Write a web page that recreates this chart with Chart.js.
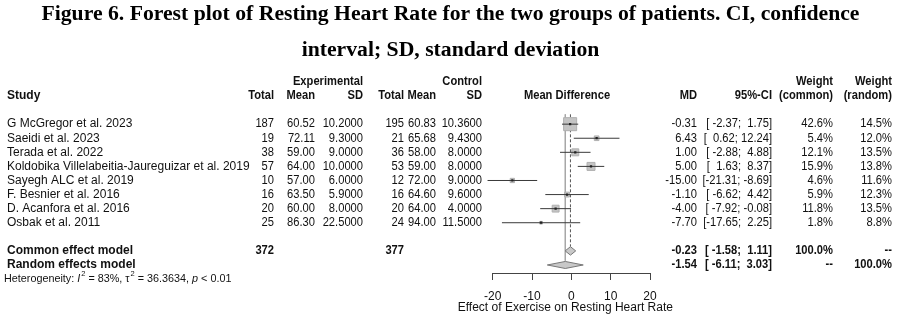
<!DOCTYPE html>
<html>
<head>
<meta charset="utf-8">
<script src="https://cdn.jsdelivr.net/npm/chart.js@4.4.1/dist/chart.umd.min.js"></script>
<style>
  html, body { margin: 0; padding: 0; background: #fff; }
</style>
</head>
<body>
<canvas id="forestChart" width="901" height="325"></canvas>
<script>
const studies = [
    'G McGregor et al. 2023',
    'Saeidi et al. 2023',
    'Terada et al. 2022',
    'Koldobika Villelabeitia-Jaureguizar et al. 2019',
    'Sayegh ALC et al. 2019',
    'F. Besnier et al. 2016',
    'D. Acanfora et al. 2016',
    'Osbak et al. 2011'
];
const expTotal = [187, 19, 38, 57, 10, 16, 20, 25];
const expMean = [60.52, 72.11, 59.00, 64.00, 57.00, 63.50, 60.00, 86.30];
const expSD = [10.2, 9.3, 9.0, 10.0, 6.0, 5.9, 8.0, 22.5];
const ctlTotal = [195, 21, 36, 53, 12, 16, 20, 24];
const ctlMean = [60.83, 65.68, 58.00, 59.00, 72.00, 64.60, 64.00, 94.00];
const ctlSD = [10.36, 9.43, 8.0, 8.0, 9.0, 9.6, 4.0, 11.5];
const md = [-0.31, 6.43, 1.00, 5.00, -15.00, -1.10, -4.00, -7.70];
const ciLow = [-2.37, 0.62, -2.88, 1.63, -21.31, -6.62, -7.92, -17.65];
const ciHigh = [1.75, 12.24, 4.88, 8.37, -8.69, 4.42, -0.08, 2.25];
const wCommon = [42.6, 5.4, 12.1, 15.9, 4.6, 5.9, 11.8, 1.8];
const wRandom = [14.5, 12.0, 13.5, 13.8, 11.6, 12.3, 13.5, 8.8];

const commonModel = { total1: 372, total2: 377, md: -0.23, lo: -1.58, hi: 1.11 };
const randomModel = { md: -1.54, lo: -6.11, hi: 3.03 };
const xTicks = [-20, -10, 0, 10, 20];

// row numbers on the (reversed) y scale
const firstRow = 3;
const commonRow = 12;
const randomRow = 13;
const rowOf = i => firstRow + i;

// whiskers: one segment per study, split by empty points
const ciSegments = [];
studies.forEach((s, i) => {
    ciSegments.push({x: ciLow[i], y: rowOf(i)}, {x: ciHigh[i], y: rowOf(i)}, {x: null, y: null});
});

const squares = md.map((v, i) => ({x: v, y: rowOf(i)}));
const squareRadius = wCommon.map(w => Math.sqrt(2 * w));

function diamond(m, row, h) {
    return [
        {x: m.lo, y: row}, {x: m.md, y: row - h},
        {x: m.hi, y: row}, {x: m.md, y: row + h}, {x: m.lo, y: row}
    ];
}

const f2 = v => v.toFixed(2);
const loW = Math.max(...ciLow.map(v => f2(v).length));
const hiW = Math.max(...ciHigh.map(v => f2(v).length));
const ciText = (lo, hi) => '[' + f2(lo).padStart(loW) + '; ' + f2(hi).padStart(hiW) + ']';

const SANS = '"Liberation Sans", Arial, sans-serif';
const INK = '#111';

// column right edges
const col = {
    expTotal: 274, expMean: 315, expSD: 363,
    ctlTotal: 404, ctlMean: 436, ctlSD: 482,
    md: 697, ci: 772, wCom: 833, wRan: 892
};

const tableText = {
    id: 'tableText',
    afterDraw(chart) {
        const ctx = chart.ctx;
        const ys = chart.scales.y;
        const xs = chart.scales.x;
        ctx.save();
        ctx.fillStyle = INK;
        ctx.textBaseline = 'middle';

        // numbers run a little narrower than the labels
        function put(txt, x, row, align, bold, sx) {
            ctx.save();
            ctx.font = (bold ? 'bold ' : '') + '12px ' + SANS;
            ctx.textAlign = align;
            ctx.translate(x, ys.getPixelForValue(row));
            ctx.scale(sx || 0.93, 1);
            ctx.fillText(txt, 0, 0);
            ctx.restore();
        }

        // header
        put('Experimental', col.expSD, 0, 'right', true);
        put('Control', col.ctlSD, 0, 'right', true);
        put('Weight', col.wCom, 0, 'right', true);
        put('Weight', col.wRan, 0, 'right', true);
        put('Study', 7, 1, 'left', true, 1);
        put('Total', col.expTotal, 1, 'right', true);
        put('Mean', col.expMean, 1, 'right', true);
        put('SD', col.expSD, 1, 'right', true);
        put('Total', col.ctlTotal, 1, 'right', true);
        put('Mean', col.ctlMean, 1, 'right', true);
        put('SD', col.ctlSD, 1, 'right', true);
        put('Mean Difference', 567, 1, 'center', true);
        put('MD', col.md, 1, 'right', true);
        put('95%-CI', col.ci, 1, 'right', true);
        put('(common)', col.wCom, 1, 'right', true);
        put('(random)', col.wRan, 1, 'right', true);

        // studies
        studies.forEach((s, i) => {
            const r = rowOf(i);
            put(s, 7, r, 'left', false, 1);
            put(String(expTotal[i]), col.expTotal, r, 'right');
            put(f2(expMean[i]), col.expMean, r, 'right');
            put(expSD[i].toFixed(4), col.expSD, r, 'right');
            put(String(ctlTotal[i]), col.ctlTotal, r, 'right');
            put(f2(ctlMean[i]), col.ctlMean, r, 'right');
            put(ctlSD[i].toFixed(4), col.ctlSD, r, 'right');
            put(f2(md[i]), col.md, r, 'right');
            put(ciText(ciLow[i], ciHigh[i]), col.ci, r, 'right');
            put(wCommon[i].toFixed(1) + '%', col.wCom, r, 'right');
            put(wRandom[i].toFixed(1) + '%', col.wRan, r, 'right');
        });

        // pooled estimates
        put('Common effect model', 7, commonRow, 'left', true, 1);
        put(String(commonModel.total1), col.expTotal, commonRow, 'right', true);
        put(String(commonModel.total2), col.ctlTotal, commonRow, 'right', true);
        put(f2(commonModel.md), col.md, commonRow, 'right', true);
        put(ciText(commonModel.lo, commonModel.hi), col.ci, commonRow, 'right', true);
        put('100.0%', col.wCom, commonRow, 'right', true);
        put('--', col.wRan, commonRow, 'right', true);

        put('Random effects model', 7, randomRow, 'left', true, 1);
        put(f2(randomModel.md), col.md, randomRow, 'right', true);
        put(ciText(randomModel.lo, randomModel.hi), col.ci, randomRow, 'right', true);
        put('--', col.wCom, randomRow, 'right', true);
        put('100.0%', col.wRan, randomRow, 'right', true);

        // heterogeneity line with superscripts
        const hy = ys.getPixelForValue(13.98);
        let hx = 4;
        ctx.textAlign = 'left';
        const parts = [
            ['Heterogeneity: ', ''], ['I', 'italic '], ['2', 'sup'],
            [' = 83%, \u03c4', ''], ['2', 'sup'], [' = 36.3634, ', ''],
            ['p', 'italic '], [' < 0.01', '']
        ];
        parts.forEach(([t, st]) => {
            if (st === 'sup') {
                ctx.font = '7.5px ' + SANS;
                ctx.fillText(t, hx + 1, hy - 5);
                hx += ctx.measureText(t).width + 1;
            } else {
                ctx.font = st + '10.8px ' + SANS;
                ctx.fillText(t, hx, hy);
                hx += ctx.measureText(t).width;
            }
        });

        // x axis title, drawn here so it is not squeezed to the plot width
        ctx.font = '12px ' + SANS;
        ctx.textAlign = 'center';
        ctx.fillText('Effect of Exercise on Resting Heart Rate', xs.getPixelForValue(0) - 6, chart.chartArea.bottom + 35);
        ctx.restore();
    }
};

const config = {
    type: 'scatter',
    data: {
        datasets: [
            {
                // random effects line
                data: [{x: randomModel.md, y: 2.3}, {x: randomModel.md, y: randomRow - 0.3}],
                showLine: true, pointRadius: 0,
                borderColor: '#a8a8a8', borderWidth: 1, order: 6
            },
            {
                // common effect line
                data: [{x: commonModel.md, y: 2.3}, {x: commonModel.md, y: commonRow - 0.3}],
                showLine: true, pointRadius: 0,
                borderColor: '#555', borderWidth: 1, borderDash: [3, 2], order: 5
            },
            {
                data: squares,
                pointStyle: 'rect',
                pointRadius: squareRadius,
                backgroundColor: '#c4c4c4', borderColor: '#b0b0b0', borderWidth: 1,
                order: 4
            },
            {
                data: ciSegments,
                showLine: true, spanGaps: false, pointRadius: 0,
                borderColor: '#3a3a3a', borderWidth: 1,
                clip: 30, order: 3
            },
            {
                data: squares,
                pointStyle: 'rect', pointRadius: 1.6,
                backgroundColor: '#222', borderWidth: 0, order: 2
            },
            {
                data: diamond(commonModel, commonRow, 0.3),
                showLine: true, pointRadius: 0, fill: 'shape',
                backgroundColor: '#c8c8c8', borderColor: '#777', borderWidth: 1, order: 1
            },
            {
                data: diamond(randomModel, randomRow, 0.25),
                showLine: true, pointRadius: 0, fill: 'shape',
                backgroundColor: '#c8c8c8', borderColor: '#777', borderWidth: 1, order: 1
            }
        ]
    },
    options: {
        responsive: false,
        animation: false,
        layout: { padding: { top: 0, bottom: 12.6, left: 0, right: 0 } },
        plugins: {
            legend: { display: false },
            tooltip: { enabled: false },
            title: {
                display: true,
                text: [
                    'Figure 6. Forest plot of Resting Heart Rate for the two groups of patients. CI, confidence',
                    'interval; SD, standard deviation'
                ],
                color: '#000',
                font: { family: '"Liberation Serif", "Times New Roman", serif', size: 21.7, weight: 'bold', lineHeight: 1.64 },
                padding: { top: -3, bottom: 6.7 }
            }
        },
        scales: {
            x: {
                type: 'linear', min: -20, max: 20,
                afterBuildTicks: s => { s.ticks = xTicks.map(v => ({value: v})); },
                ticks: { color: INK, font: { family: SANS, size: 12 }, padding: 9 },
                grid: { drawOnChartArea: false, drawTicks: true, tickLength: 7, color: '#444' },
                border: { display: true, color: '#444' }
            },
            y: {
                type: 'linear', reverse: true, min: -0.5, max: 13.57,
                ticks: { display: false }, grid: { display: false }, border: { display: false },
                afterFit: s => { s.width = 492.7; }
            },
            y2: {
                type: 'linear', position: 'right',
                ticks: { display: false }, grid: { display: false }, border: { display: false },
                afterFit: s => { s.width = 251; }
            }
        }
    },
    plugins: [tableText]
};

const forestChart = new Chart(document.getElementById('forestChart'), config);
</script>
</body>
</html>
